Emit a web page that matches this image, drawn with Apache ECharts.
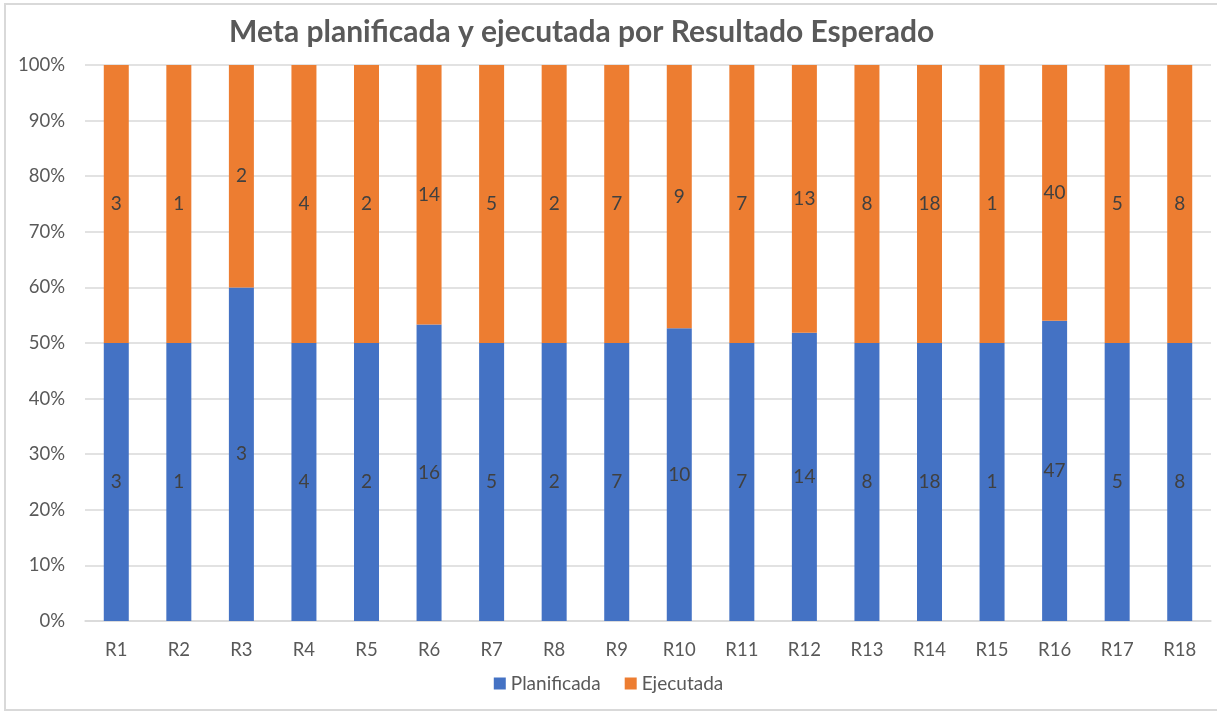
<!DOCTYPE html>
<html>
<head>
<meta charset="utf-8">
<script src="https://cdn.jsdelivr.net/npm/echarts@6/dist/echarts.min.js"></script>
<style>
  html, body { margin: 0; padding: 0; background: #fff; }
  #frame { position: absolute; left: 4px; top: 3px; width: 1220px; height: 708px; border: 2px solid #d9d9d9; box-sizing: border-box; }
  #chart { position: absolute; left: 0; top: 0; width: 1217px; height: 713px; }
</style>
</head>
<body>
<div id="frame"></div>
<div id="chart"></div>
<script>
// 数据
const categories = ['R1','R2','R3','R4','R5','R6','R7','R8','R9','R10','R11','R12','R13','R14','R15','R16','R17','R18']
const planificada = [3, 1, 3, 4, 2, 16, 5, 2, 7, 10, 7, 14, 8, 18, 1, 47, 5, 8]
const ejecutada = [3, 1, 2, 4, 2, 14, 5, 2, 7, 9, 7, 13, 8, 18, 1, 40, 5, 8]
const percentTicks = [0, 10, 20, 30, 40, 50, 60, 70, 80, 90, 100]

// 百分比
const totals = planificada.map((v, i) => v + ejecutada[i])
const planPct = planificada.map((v, i) => v / totals[i] * 100)
const ejecPct = ejecutada.map((v, i) => v / totals[i] * 100)

const font = 'Lato, "Open Sans", sans-serif'

const chart = echarts.init(document.getElementById('chart'))

const labelFor = (raw) => ({
  show: true,
  position: 'inside',
  color: '#404040',
  fontSize: 19,
  fontFamily: font,
  formatter: (p) => String(raw[p.dataIndex])
})

chart.setOption({
  animation: false,
  title: {
    text: 'Meta planificada y ejecutada por Resultado Esperado',
    left: 224,
    top: 12,
    textStyle: { fontSize: 30, fontWeight: 'bold', color: '#595959', fontFamily: font }
  },
  legend: {
    bottom: 15,
    left: 'center',
    itemWidth: 12,
    itemHeight: 12,
    itemGap: 24,
    icon: 'rect',
    textStyle: { fontSize: 19, color: '#595959', fontFamily: font },
    data: ['Planificada', 'Ejecutada']
  },
  grid: { left: 85, right: 6, top: 65, bottom: 92 },
  xAxis: {
    type: 'category',
    data: categories,
    axisLine: { lineStyle: { color: '#d9d9d9', width: 1.5 } },
    axisTick: { show: false },
    axisLabel: { color: '#595959', fontSize: 18.5, fontFamily: font, margin: 20 }
  },
  yAxis: {
    type: 'value',
    min: 0,
    max: 100,
    interval: 10,
    axisLine: { show: false },
    axisTick: { show: false },
    splitLine: { lineStyle: { color: '#d9d9d9', width: 1.5 } },
    axisLabel: {
      color: '#595959', fontSize: 18.5, fontFamily: font, margin: 20,
      formatter: (v) => percentTicks.includes(v) ? v + '%' : ''
    }
  },
  series: [
    {
      name: 'Planificada',
      type: 'bar',
      stack: 'total',
      barWidth: 25,
      data: planPct,
      itemStyle: { color: '#4472c4' },
      label: labelFor(planificada)
    },
    {
      name: 'Ejecutada',
      type: 'bar',
      stack: 'total',
      barWidth: 25,
      data: ejecPct,
      itemStyle: { color: '#ed7d31' },
      label: labelFor(ejecutada)
    }
  ]
})
</script>
</body>
</html>
